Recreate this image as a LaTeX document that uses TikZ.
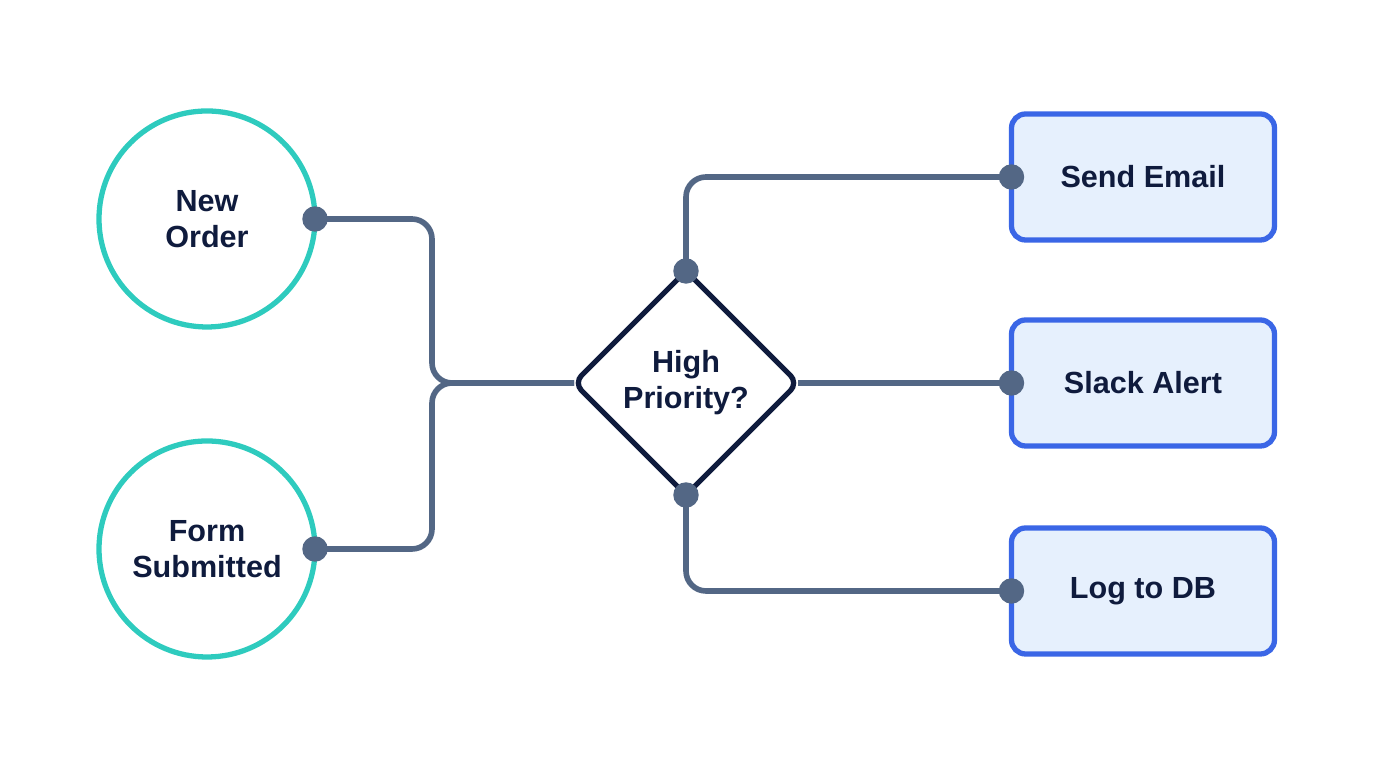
\documentclass[tikz,border=0pt]{standalone}
\usepackage{fontspec}
\setmainfont{Liberation Sans}
\usetikzlibrary{shapes.geometric}
\definecolor{trigteal}{HTML}{2ECBBE}
\definecolor{wiregray}{HTML}{536785}
\definecolor{inknavy}{HTML}{0F1B3D}
\definecolor{actblue}{HTML}{3A66E6}
\definecolor{actfill}{HTML}{E6F0FD}
\tikzset{
  trigger/.style={circle,draw=trigteal,line width=1.5pt,minimum size=2.16cm,inner sep=0pt,outer sep=0pt,align=center},
  decision/.style={diamond,draw=inknavy,line width=1.5pt,minimum width=2.24cm,minimum height=2.24cm,inner sep=0pt,outer sep=0pt,rounded corners=3pt,align=center},
  action/.style={rectangle,draw=actblue,fill=actfill,line width=1.5pt,minimum width=2.63cm,minimum height=1.26cm,rounded corners=4pt,outer sep=0pt},
  wire/.style={wiregray,line width=1.6pt,rounded corners=0.2cm},
  label/.style={font=\fontsize{8.7}{10.2}\selectfont\bfseries,text=inknavy}
}
\begin{document}
\begin{tikzpicture}
  \useasboundingbox (0.0,0.0) rectangle (13.76,7.68);
  % triggers
  \node[trigger,label] (order) at (2.07,5.49) {New\\Order};
  \node[trigger,label] (form) at (2.07,2.19) {Form\\Submitted};
  % decision
  \node[decision,label] (prio) at (6.86,3.85) {High\\Priority?};
  % actions
  \node[action,label] (email) at (11.43,5.91) {Send Email};
  \node[action,label] (slack) at (11.43,3.85) {Slack Alert};
  \node[action,label] (logdb) at (11.43,1.77) {Log to DB};
  \coordinate (merge) at (4.32,3.85);
  % wires
  \draw[wire] (order.east) -| (merge) -- (prio.west);
  \draw[wire] (form.east) -| (merge) -- (prio.west);
  \draw[wire] (prio.north) |- (email.west);
  \draw[wire] (prio.east) -- (slack.west);
  \draw[wire] (prio.south) |- (logdb.west);
  % ports
  \filldraw[wiregray] (order.east) circle (0.12);
  \filldraw[wiregray] (form.east) circle (0.12);
  \filldraw[wiregray] (prio.north) circle (0.12);
  \filldraw[wiregray] (prio.south) circle (0.12);
  \filldraw[wiregray] (email.west) circle (0.12);
  \filldraw[wiregray] (slack.west) circle (0.12);
  \filldraw[wiregray] (logdb.west) circle (0.12);
\end{tikzpicture}
\end{document}
